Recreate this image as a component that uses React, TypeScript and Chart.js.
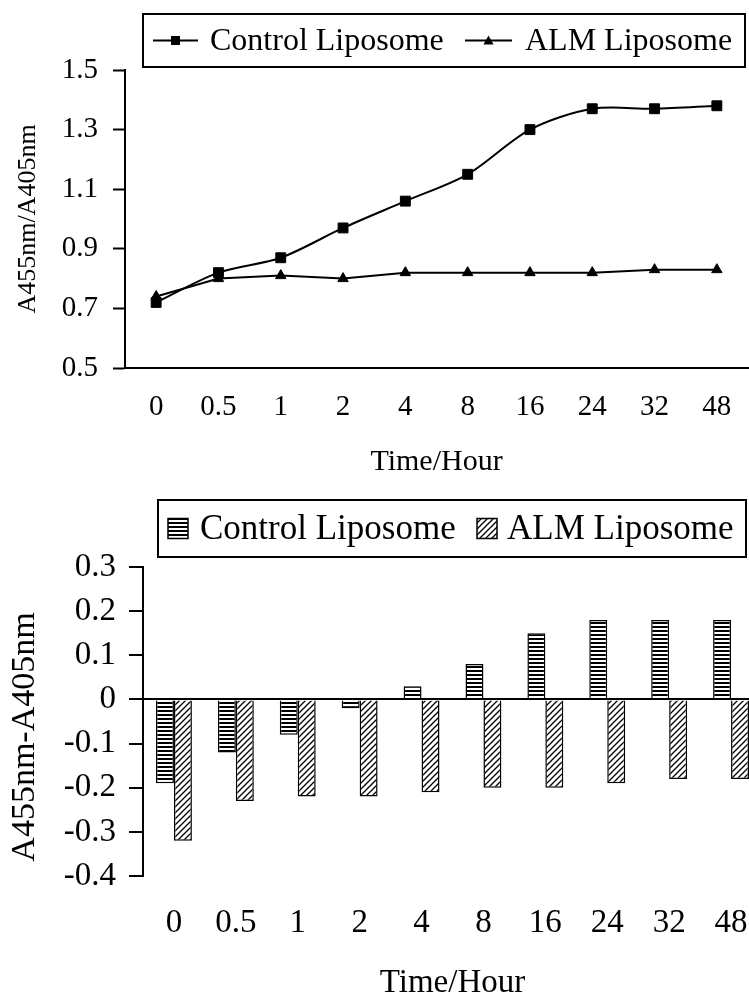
import React, { useEffect, useRef } from "react";
import { Chart, registerables } from "chart.js";

Chart.register(...registerables);

// ---------- data ----------
const categories = ["0", "0.5", "1", "2", "4", "8", "16", "24", "32", "48"];
const seriesNames = ["Control Liposome", "ALM Liposome"];
const controlRatio = [0.72, 0.82, 0.87, 0.97, 1.06, 1.15, 1.3, 1.37, 1.37, 1.38];
const almRatio = [0.74, 0.8, 0.81, 0.8, 0.82, 0.82, 0.82, 0.82, 0.83, 0.83];
const controlDiff = [-0.19, -0.12, -0.08, -0.02, 0.03, 0.08, 0.15, 0.18, 0.18, 0.18];
const almDiff = [-0.32, -0.23, -0.22, -0.22, -0.21, -0.2, -0.2, -0.19, -0.18, -0.18];
const ratioTicks = [0.5, 0.7, 0.9, 1.1, 1.3, 1.5];
const diffTicks = [-0.4, -0.3, -0.2, -0.1, 0, 0.1, 0.2, 0.3];
const xTitle = "Time/Hour";
const ratioTitle = "A455nm/A405nm";
const diffTitle = "A455nm-A405nm";

const FAMILY = "'Liberation Serif', 'Times New Roman', serif";
const fmt = (v: any) => String(Math.round(Number(v) * 10) / 10);

function makeStripePattern(): CanvasPattern | string {
  const c = document.createElement("canvas");
  c.width = 4;
  c.height = 4;
  const x = c.getContext("2d");
  if (!x) return "#888";
  x.fillStyle = "#fff";
  x.fillRect(0, 0, 4, 4);
  x.fillStyle = "#000";
  x.fillRect(0, 0, 4, 2);
  return x.createPattern(c, "repeat") || "#888";
}

function makeHatchPattern(): CanvasPattern | string {
  const c = document.createElement("canvas");
  const s = 6;
  c.width = s;
  c.height = s;
  const x = c.getContext("2d");
  if (!x) return "#aaa";
  x.fillStyle = "#fff";
  x.fillRect(0, 0, s, s);
  x.strokeStyle = "#000";
  x.lineWidth = 1.3;
  x.beginPath();
  x.moveTo(0, s);
  x.lineTo(s, 0);
  x.moveTo(-s / 2, s / 2);
  x.lineTo(s / 2, -s / 2);
  x.moveTo(s / 2, s + s / 2);
  x.lineTo(s + s / 2, s / 2);
  x.stroke();
  return x.createPattern(c, "repeat") || "#aaa";
}

// legend for the line chart: line sample + marker + label, inside a framed box
const lineLegendPlugin = {
  id: "lineLegend",
  afterDraw(chart: any, _args: any, o: any) {
    const ctx = chart.ctx as CanvasRenderingContext2D;
    ctx.save();
    ctx.strokeStyle = "#000";
    ctx.lineWidth = 2;
    ctx.strokeRect(o.box[0], o.box[1], o.box[2], o.box[3]);
    const cy = o.box[1] + o.box[3] / 2;
    chart.data.datasets.forEach((ds: any, i: number) => {
      const it = o.items[i];
      ctx.beginPath();
      ctx.moveTo(it[0], cy);
      ctx.lineTo(it[1], cy);
      ctx.lineWidth = 2;
      ctx.strokeStyle = "#000";
      ctx.stroke();
      const mx = (it[0] + it[1]) / 2;
      ctx.fillStyle = "#000";
      if (ds.pointStyle === "rect") {
        ctx.fillRect(mx - 4.5, cy - 4.5, 9, 9);
      } else {
        ctx.beginPath();
        ctx.moveTo(mx, cy - 5);
        ctx.lineTo(mx + 5, cy + 4);
        ctx.lineTo(mx - 5, cy + 4);
        ctx.closePath();
        ctx.fill();
      }
      ctx.font = `${o.fontSize}px ${FAMILY}`;
      ctx.textAlign = "left";
      ctx.textBaseline = "middle";
      ctx.fillText(ds.label, it[2], cy + 1);
    });
    ctx.restore();
  },
};

// legend for the bar chart: pattern swatch + label, inside a framed box
const barLegendPlugin = {
  id: "barLegend",
  afterDraw(chart: any, _args: any, o: any) {
    const ctx = chart.ctx as CanvasRenderingContext2D;
    ctx.save();
    ctx.strokeStyle = "#000";
    ctx.lineWidth = 2;
    ctx.strokeRect(o.box[0], o.box[1], o.box[2], o.box[3]);
    const cy = o.box[1] + o.box[3] / 2;
    chart.data.datasets.forEach((ds: any, i: number) => {
      const it = o.items[i];
      const sz = o.swatch;
      ctx.fillStyle = ds.backgroundColor;
      ctx.fillRect(it[0], cy - sz / 2, sz, sz);
      ctx.lineWidth = 1.5;
      ctx.strokeStyle = "#000";
      ctx.strokeRect(it[0], cy - sz / 2, sz, sz);
      ctx.fillStyle = "#000";
      ctx.font = `${o.fontSize}px ${FAMILY}`;
      ctx.textAlign = "left";
      ctx.textBaseline = "middle";
      ctx.fillText(ds.label, it[1], cy + 1);
    });
    ctx.restore();
  },
};

// rotated y-axis title at a given spot
const sideTitlePlugin = {
  id: "sideTitle",
  afterDraw(chart: any, _args: any, o: any) {
    const ctx = chart.ctx as CanvasRenderingContext2D;
    ctx.save();
    ctx.translate(o.x, o.y);
    ctx.rotate(-Math.PI / 2);
    ctx.fillStyle = "#000";
    ctx.font = `${o.fontSize}px ${FAMILY}`;
    ctx.textAlign = "center";
    ctx.textBaseline = "middle";
    ctx.fillText(o.text, 0, 0);
    ctx.restore();
  },
};

function LineChart() {
  const ref = useRef<HTMLCanvasElement | null>(null);
  useEffect(() => {
    if (!ref.current) return;
    const chart = new Chart(ref.current, {
      type: "line",
      data: {
        labels: categories,
        datasets: [
          {
            label: seriesNames[0],
            data: controlRatio,
            borderColor: "#000",
            backgroundColor: "#000",
            borderWidth: 2,
            pointStyle: "rect",
            pointRadius: 7,
            pointBorderWidth: 1,
            tension: 0.3,
          },
          {
            label: seriesNames[1],
            data: almRatio,
            borderColor: "#000",
            backgroundColor: "#000",
            borderWidth: 2,
            pointStyle: "triangle",
            pointRadius: 6,
            pointBorderWidth: 1,
            tension: 0,
          },
        ],
      },
      options: {
        animation: false,
        responsive: false,
        layout: { autoPadding: false, padding: { left: 0, right: 1, top: 70, bottom: 0 } },
        plugins: {
          legend: { display: false },
          tooltip: { enabled: false },
          lineLegend: {
            box: [143, 14, 602, 53],
            fontSize: 32,
            items: [
              [153, 198, 210],
              [465, 512, 525],
            ],
          },
        } as any,
        scales: {
          x: {
            offset: true,
            grid: { display: false, drawTicks: false },
            border: { display: true, color: "#000", width: 2 },
            ticks: {
              color: "#000",
              font: { family: FAMILY, size: 29, lineHeight: 1 },
              padding: 25,
              maxRotation: 0,
              autoSkip: false,
            },
            title: {
              display: true,
              text: xTitle,
              color: "#000",
              font: { family: FAMILY, size: 30, lineHeight: 1 },
              padding: { top: 0, bottom: 13 },
            },
            afterFit(s: any) {
              s.height = 122;
              s.paddingLeft = 0;
              s.paddingRight = 0;
            },
          },
          y: {
            min: 0.5,
            max: 1.5,
            afterBuildTicks(s: any) {
              s.ticks = ratioTicks.map((v) => ({ value: v }));
            },
            grid: {
              display: true,
              drawOnChartArea: false,
              drawTicks: true,
              tickLength: 12,
              tickColor: "#000",
              tickWidth: 2,
            },
            border: { display: true, color: "#000", width: 2 },
            ticks: {
              color: "#000",
              font: { family: FAMILY, size: 29, lineHeight: 1 },
              padding: 15,
              callback: fmt,
            },
            title: {
              display: true,
              text: ratioTitle,
              color: "#000",
              font: { family: FAMILY, size: 26, lineHeight: 1 },
              padding: { top: 15, bottom: 0 },
            },
            afterFit(s: any) {
              s.width = 125;
            },
          },
        } as any,
      },
      plugins: [lineLegendPlugin],
    });
    return () => chart.destroy();
  }, []);
  return (
    <canvas
      ref={ref}
      width={749}
      height={490}
      style={{ position: "absolute", left: 0, top: 0, width: 749, height: 490, display: "block" }}
    />
  );
}

function BarChart() {
  const ref = useRef<HTMLCanvasElement | null>(null);
  useEffect(() => {
    if (!ref.current) return;
    const stripe = makeStripePattern();
    const hatch = makeHatchPattern();
    const chart = new Chart(ref.current, {
      type: "bar",
      data: {
        labels: categories,
        datasets: [
          {
            label: seriesNames[0],
            data: controlDiff,
            backgroundColor: stripe as any,
            borderColor: "#000",
            borderWidth: 1.5,
            categoryPercentage: 0.58,
            barPercentage: 1,
          },
          {
            label: seriesNames[1],
            data: almDiff,
            backgroundColor: hatch as any,
            borderColor: "#000",
            borderWidth: 1.5,
            categoryPercentage: 0.58,
            barPercentage: 1,
          },
        ],
      },
      options: {
        animation: false,
        responsive: false,
        layout: { autoPadding: false, padding: { left: 0, right: 18, top: 77, bottom: 0 } },
        plugins: {
          legend: { display: false },
          tooltip: { enabled: false },
          barLegend: {
            box: [158, 10, 588, 57],
            fontSize: 35,
            swatch: 20,
            items: [
              [168, 200],
              [477, 507],
            ],
          },
          sideTitle: { text: diffTitle, x: 25, y: 247, fontSize: 34 },
        } as any,
        scales: {
          x: {
            grid: { display: false, drawTicks: false },
            border: { display: false },
            ticks: {
              color: "#000",
              font: { family: FAMILY, size: 33, lineHeight: 1 },
              padding: 31,
              maxRotation: 0,
              autoSkip: false,
            },
            title: {
              display: true,
              text: xTitle,
              color: "#000",
              font: { family: FAMILY, size: 33, lineHeight: 1 },
              padding: { top: 0, bottom: 4 },
            },
            afterFit(s: any) {
              s.height = 128;
              s.paddingLeft = 0;
              s.paddingRight = 0;
            },
          },
          y: {
            min: -0.4,
            max: 0.3,
            afterBuildTicks(s: any) {
              s.ticks = diffTicks.map((v) => ({ value: v }));
            },
            grid: {
              display: true,
              drawOnChartArea: true,
              drawTicks: true,
              color: (c: any) =>
                c.tick && Math.abs(c.tick.value) < 1e-9 ? "#000" : "rgba(0,0,0,0)",
              lineWidth: 2,
              tickLength: 14,
              tickColor: "#000",
              tickWidth: 2,
            },
            border: { display: true, color: "#000", width: 2 },
            ticks: {
              color: "#000",
              font: { family: FAMILY, size: 33, lineHeight: 1 },
              padding: 13,
              callback: fmt,
            },
            title: { display: false },
            afterFit(s: any) {
              s.width = 143;
            },
          },
        } as any,
      },
      plugins: [barLegendPlugin, sideTitlePlugin],
    });
    return () => chart.destroy();
  }, []);
  return (
    <canvas
      ref={ref}
      width={780}
      height={514}
      style={{ position: "absolute", left: 0, top: 490, width: 780, height: 514, display: "block" }}
    />
  );
}

export default function App() {
  return (
    <div
      style={{
        position: "fixed",
        left: 0,
        top: 0,
        width: 749,
        height: 1004,
        overflow: "hidden",
        background: "#fff",
      }}
    >
      <LineChart />
      <BarChart />
    </div>
  );
}
